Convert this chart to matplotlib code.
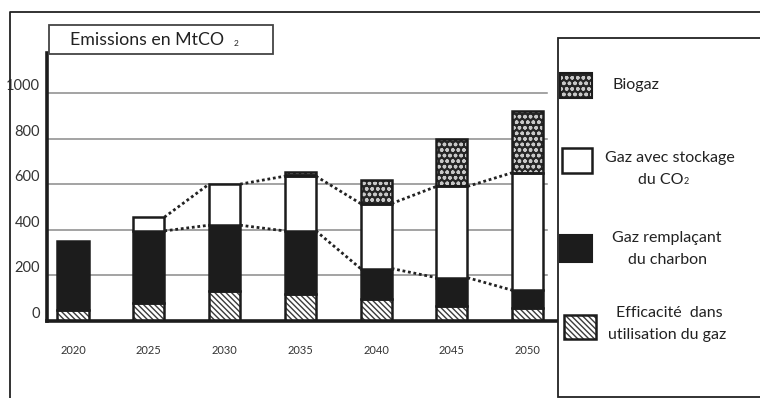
import numpy as np
import matplotlib.pyplot as plt
from matplotlib.patches import Rectangle

plt.rcParams['font.family'] = ['Lato', 'DejaVu Sans']
plt.rcParams['hatch.linewidth'] = 1.0

# Emissions en MtCO2 par levier, empilées
annees = ['2020', '2025', '2030', '2035', '2040', '2045', '2050']
efficacite = [50, 80, 130, 120, 95, 65, 55]
charbon = [300, 315, 290, 275, 135, 125, 80]
stockage = [0, 60, 180, 240, 285, 400, 515]
biogaz = [0, 0, 0, 20, 105, 210, 270]
graduations = [0, 200, 400, 600, 800, 1000]

NOIR = '#1c1c1c'
GRIS = '#8a8a8a'
HACH_EFF = '\\\\\\\\\\\\'
HACH_BIO = 'ooo'

fig = plt.figure(figsize=(7.6, 3.98), dpi=100)
fig.patch.set_facecolor('white')

# axe principal (en pixels : x 47..558, y 53..321)
ax = fig.add_axes([47 / 760, (398 - 321) / 398, (558 - 47) / 760, (321 - 53) / 398])
x = np.arange(len(annees))
w = 0.41
ax.set_xlim(-0.343, 6.4)
ax.set_ylim(0, 1175)

for g in graduations[1:]:
    ax.plot([-0.343, 6.25], [g, g], color=GRIS, lw=1.1, zorder=0)

eff = np.array(efficacite)
cha = np.array(charbon)
sto = np.array(stockage)
bio = np.array(biogaz)

# Efficacité : hachures diagonales
ax.bar(x, eff, w, color='white', edgecolor='#3a3a3a', hatch=HACH_EFF, lw=0, zorder=2)
ax.bar(x, eff, w, fill=False, edgecolor=NOIR, lw=1.8, zorder=3)
# Gaz remplaçant le charbon
ax.bar(x, cha, w, bottom=eff, color=NOIR, edgecolor=NOIR, lw=1.8, zorder=3)
# Gaz avec stockage du CO2
bas = eff + cha
m = sto > 0
ax.bar(x[m], sto[m], w, bottom=bas[m], color='white', edgecolor=NOIR, lw=1.8, zorder=3)
# Biogaz : motif pointillé
bas2 = bas + sto
m = bio > 0
ax.bar(x[m], bio[m], w, bottom=bas2[m], color='#262626', edgecolor='#c8c8c8',
       hatch=HACH_BIO, lw=0, zorder=2)
ax.bar(x[m], bio[m], w, bottom=bas2[m], fill=False, edgecolor=NOIR, lw=1.8, zorder=3)

# lignes pointillées reliant les sommets des barres
for tops in (bas, bas2):
    for i in range(1, len(annees) - 1):
        ax.plot([x[i] + w / 2, x[i + 1] - w / 2], [tops[i], tops[i + 1]],
                color='#222222', lw=2, ls=(0, (1, 1)), zorder=4)

for s in ['top', 'right']:
    ax.spines[s].set_visible(False)
ax.spines['left'].set_linewidth(2.6)
ax.spines['bottom'].set_linewidth(2.6)
ax.spines['left'].set_color(NOIR)
ax.spines['bottom'].set_color(NOIR)
ax.set_xticks(x)
ax.set_xticklabels(annees, fontsize=8, color='#333333')
ax.set_yticks(graduations)
ax.set_yticklabels([str(g) for g in graduations], fontsize=10.5, color='#333333')
ax.tick_params(axis='x', length=0, pad=17)
ax.tick_params(axis='y', length=0, pad=5)
for lab in ax.get_yticklabels():
    lab.set_va('bottom')

# calque en pixels pour le cadre, le titre et la légende
ov = fig.add_axes([0, 0, 1, 1], zorder=5)
ov.set_xlim(0, 760)
ov.set_ylim(398, 0)
ov.axis('off')
ov.patch.set_alpha(0)

ov.plot([10, 10, 760], [398, 12, 12], color='#222222', lw=1.3)

ov.add_patch(Rectangle((49, 25), 224, 29, fill=False, edgecolor='#444444', lw=1.3))
ov.text(70, 40, 'Emissions en MtCO', fontsize=12.8, va='center', ha='left', color='#222222')
ov.text(234, 43, '2', fontsize=6, va='center', ha='left', color='#222222')

ov.add_patch(Rectangle((558, 38), 230, 359, facecolor='white', edgecolor='#222222', lw=1.3))

# échantillons de légende
ov.add_patch(Rectangle((560, 73), 32, 25, facecolor='#262626', edgecolor='#c8c8c8',
                       hatch=HACH_BIO, lw=0))
ov.add_patch(Rectangle((560, 73), 32, 25, fill=False, edgecolor=NOIR, lw=1.5))
ov.text(612, 85, 'Biogaz', fontsize=11.5, va='center', ha='left', color='#222222')

ov.add_patch(Rectangle((562, 148), 30, 25, facecolor='white', edgecolor=NOIR, lw=1.8))
ov.text(670, 158, 'Gaz avec stockage', fontsize=11.5, va='center', ha='center', color='#222222')
ov.text(661, 180, 'du CO', fontsize=11.5, va='center', ha='center', color='#222222')
ov.text(684, 182, '2', fontsize=6.5, va='center', ha='left', color='#222222')

ov.add_patch(Rectangle((560, 235), 32, 27, facecolor=NOIR, edgecolor=NOIR, lw=1.5))
ov.text(667, 238, 'Gaz remplaçant', fontsize=11.5, va='center', ha='center', color='#222222')
ov.text(667, 260, 'du charbon', fontsize=11.5, va='center', ha='center', color='#222222')

ov.add_patch(Rectangle((564, 315), 32, 24, facecolor='white', edgecolor='#3a3a3a',
                       hatch=HACH_EFF, lw=0))
ov.add_patch(Rectangle((564, 315), 32, 24, fill=False, edgecolor=NOIR, lw=1.8))
ov.text(669, 313, 'Efficacité  dans', fontsize=11.5, va='center', ha='center', color='#222222')
ov.text(667, 335, 'utilisation du gaz', fontsize=11.5, va='center', ha='center', color='#222222')

fig.savefig('out.png', dpi=100)
